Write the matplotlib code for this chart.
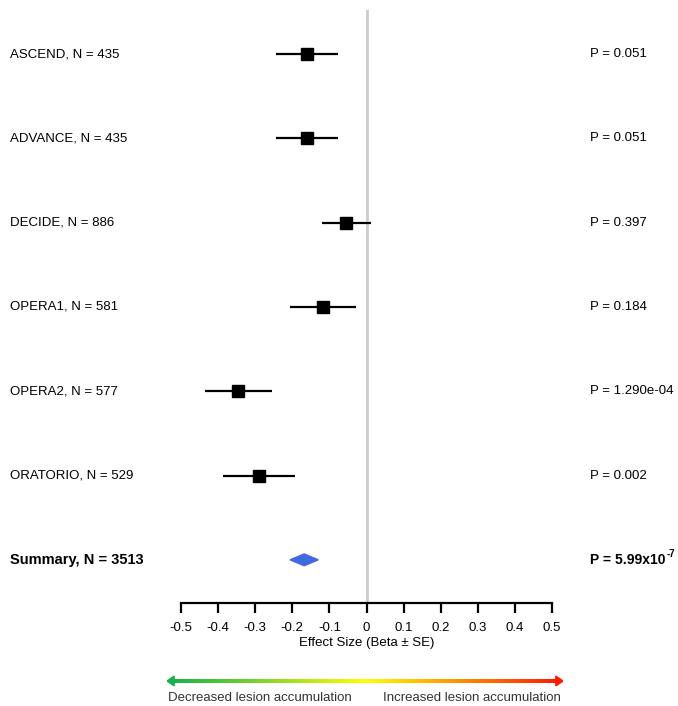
import matplotlib.pyplot as plt
import matplotlib.transforms as mtrans
from matplotlib.patches import Polygon
import numpy as np

plt.rcParams['font.family'] = ['Liberation Sans', 'DejaVu Sans']

studies = ['ASCEND', 'ADVANCE', 'DECIDE', 'OPERA1', 'OPERA2', 'ORATORIO']
n_pts = [435, 435, 886, 581, 577, 529]
beta = [-0.160, -0.160, -0.055, -0.117, -0.346, -0.290]
se = [0.083, 0.083, 0.066, 0.089, 0.090, 0.097]
pvals = ['P = 0.051', 'P = 0.051', 'P = 0.397', 'P = 0.184', 'P = 1.290e-04', 'P = 0.002']

sum_n = 3513
sum_beta = -0.168
sum_se = 0.038
sum_p_base = 'P = 5.99x10'
sum_p_exp = '-7'

ticks = [-0.5, -0.4, -0.3, -0.2, -0.1, 0, 0.1, 0.2, 0.3, 0.4, 0.5]
tick_labels = ['-0.5', '-0.4', '-0.3', '-0.2', '-0.1', '0', '0.1', '0.2', '0.3', '0.4', '0.5']

W, H = 678, 706
fig = plt.figure(figsize=(W / 100, H / 100), dpi=100)

# main axes: x data -0.5..0.5 spans px 181..552, spine at px 603
ax = fig.add_axes([181 / W, 1 - 603 / H, 371 / W, (603 - 10) / H])
ax.set_xlim(-0.5, 0.5)
ax.set_ylim(6.512, -0.522)

ax.axvline(0, color='#cccccc', lw=2, zorder=0)

rows = np.arange(len(studies))
ax.errorbar(beta, rows, xerr=se, fmt='s', color='black', ecolor='black',
            elinewidth=1.6, markersize=8, capsize=0, zorder=3)

h = 0.07
diamond = Polygon([(sum_beta - sum_se, 6), (sum_beta, 6 - h),
                   (sum_beta + sum_se, 6), (sum_beta, 6 + h)],
                  closed=True, color='#4169e1', zorder=3)
ax.add_patch(diamond)

for s in ['top', 'left', 'right']:
    ax.spines[s].set_visible(False)
ax.spines['bottom'].set_linewidth(1.6)
ax.set_yticks([])
ax.set_xticks(ticks)
ax.set_xticklabels(tick_labels, fontsize=9.5)
ax.tick_params(axis='x', direction='out', length=7, width=1.6, pad=7)
ax.set_xlabel('Effect Size (Beta \u00b1 SE)', fontsize=9.5, labelpad=2)

tr = mtrans.blended_transform_factory(fig.transFigure, ax.transData)
for i in range(len(studies)):
    ax.text(10 / W, i, '%s, N = %d' % (studies[i], n_pts[i]), transform=tr,
            ha='left', va='center', fontsize=9.5, clip_on=False)
    ax.text(590 / W, i, pvals[i], transform=tr,
            ha='left', va='center', fontsize=9.5, clip_on=False)
ax.text(10 / W, 6, 'Summary, N = %d' % sum_n, transform=tr, ha='left',
        va='center', fontsize=10.5, fontweight='bold', clip_on=False)
tp = ax.text(590 / W, 6, sum_p_base, transform=tr, ha='left', va='center',
             fontsize=10, fontweight='bold', clip_on=False)
ax.annotate(sum_p_exp, xy=(1, 1), xycoords=tp, xytext=(0.5, 2.5),
            textcoords='offset points', ha='left', va='top',
            fontsize=7, fontweight='bold', annotation_clip=False)

# gradient arrow
ax2 = fig.add_axes([167 / W, 1 - 688 / H, (563 - 167) / W, 14 / H])
ax2.set_xlim(0, 1)
ax2.set_ylim(-1, 1)
ax2.axis('off')
cmap = plt.matplotlib.colors.LinearSegmentedColormap.from_list(
    'gyr', ['#16b24b', '#ffff00', '#ff1a00'])
grad = np.linspace(0, 1, 256).reshape(1, -1)
ax2.imshow(grad, aspect='auto', cmap=cmap, extent=(0.015, 0.985, -0.28, 0.28))
ax2.add_patch(Polygon([(0, 0), (0.018, 0.7), (0.018, -0.7)], closed=True,
                      color='#16b24b'))
ax2.add_patch(Polygon([(1, 0), (0.982, 0.7), (0.982, -0.7)], closed=True,
                      color='#ff1a00'))

fig.text(168 / W, 1 - 698 / H, 'Decreased lesion accumulation', ha='left',
         va='center', fontsize=9.5, color='#333333')
fig.text(561 / W, 1 - 698 / H, 'Increased lesion accumulation', ha='right',
         va='center', fontsize=9.5, color='#333333')

fig.savefig('out.png', dpi=100)
